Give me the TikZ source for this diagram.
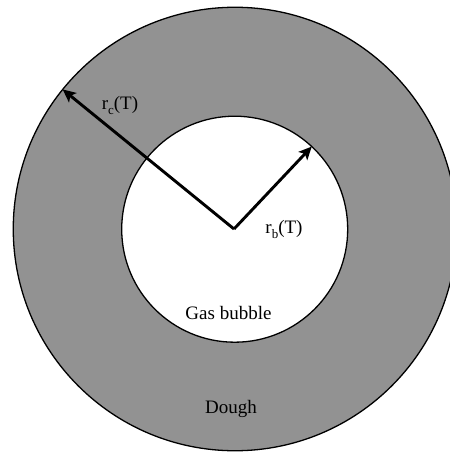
\documentclass[tikz,border=0pt]{standalone}
\usepackage{fontspec}
\setmainfont{Liberation Serif}
\usetikzlibrary{arrows.meta}
\definecolor{dough}{RGB}{146,146,146}
\tikzset{
  ring/.style={circle, draw=black, line width=1.3pt, inner sep=0pt, outer sep=0pt},
  radius arrow/.style={line width=2.9pt, -{Stealth[length=13pt,width=12pt,inset=3pt]}},
  lbl/.style={font=\fontsize{19}{23}\selectfont, inner sep=0pt, text=black}
}
\newcommand{\subc}[1]{\raisebox{-5pt}{\fontsize{13}{13}\selectfont #1}}
\begin{document}
\begin{tikzpicture}[x=1pt,y=-1pt]
\useasboundingbox (0,0) rectangle (449,454);
\node[ring, fill=dough, minimum size=443.5pt] (outer) at (235,229) {};
\node[ring, fill=white, minimum size=226pt] (inner) at (234.7,229.2) {};
\coordinate (c) at (234,229);
\draw[radius arrow] (c) -- (outer.141.7);
\draw[radius arrow] (c) -- (inner.47.5);
\node[lbl] (rc) at (120,105) {r\subc{c}(T)};
\node[lbl] (rb) at (284,229) {r\subc{b}(T)};
\node[lbl] (gas) at (228.5,313) {Gas bubble};
\node[lbl] (dough) at (231,409) {Dough};
\end{tikzpicture}
\end{document}
